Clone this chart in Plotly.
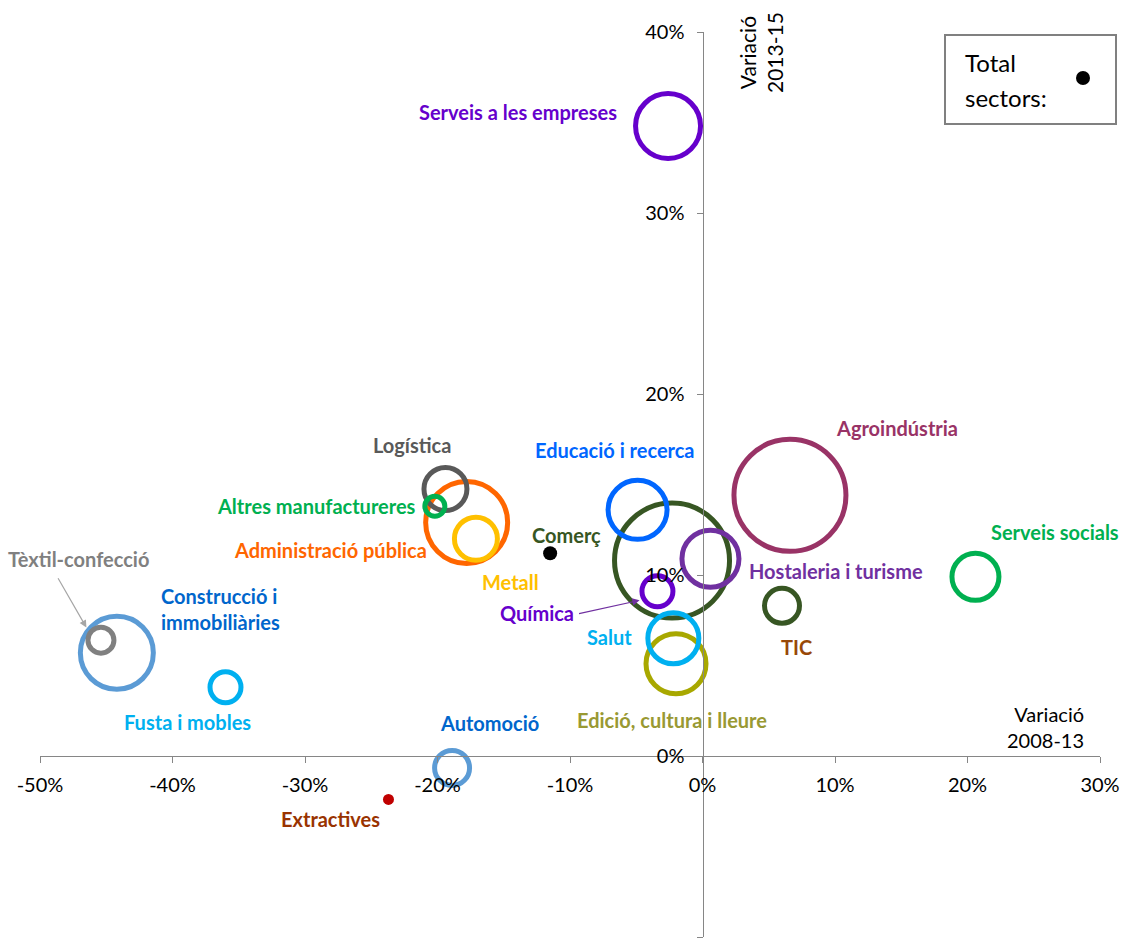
import plotly.graph_objects as go

# ---------------- data ----------------
sectors = ["Serveis a les empreses", "Logística", "Altres manufactureres",
           "Administració pública", "Metall", "Comerç", "Educació i recerca",
           "Agroindústria", "Hostaleria i turisme", "Serveis socials", "TIC",
           "Química", "Salut", "Edició, cultura i lleure",
           "Construcció i immobiliàries", "Tèxtil-confecció", "Fusta i mobles",
           "Automoció"]
var_2008_13 = [-2.6, -19.4, -20.2, -17.8, -17.1, -2.3, -4.9, 6.6, 0.6, 20.6,
               6.0, -3.4, -2.2, -2.0, -44.2, -45.4, -36.0, -18.9]
var_2013_15 = [34.8, 14.75, 13.8, 12.9, 12.0, 10.8, 13.6, 14.4, 10.9, 9.9,
               8.3, 9.1, 6.5, 5.1, 5.7, 6.4, 3.8, -0.66]
pes = [105.6, 46.2, 10.0, 168.1, 46.2, 330.6, 87.0, 313.6, 81.2, 55.2,
       30.6, 24.0, 65.0, 90.0, 133.2, 16.9, 24.0, 30.6]

extractives_name = "Extractives"
extractives_x = [-23.7]
extractives_y = [-2.4]

total_name = "Total sectors"
total_x = [-11.5]
total_y = [11.2]

x_ticks = [-50, -40, -30, -20, -10, 0, 10, 20, 30]
y_ticks = [-10, 0, 10, 20, 30, 40]

# ---------------- style ----------------
ring_colors = {
    "Serveis a les empreses": "#6600CC", "Logística": "#595959",
    "Altres manufactureres": "#00B050", "Administració pública": "#FF6600",
    "Metall": "#FFC000", "Comerç": "#375623", "Educació i recerca": "#0066FF",
    "Agroindústria": "#993366", "Hostaleria i turisme": "#7030A0",
    "Serveis socials": "#00B050", "TIC": "#375623", "Química": "#6600CC",
    "Salut": "#00B0F0", "Edició, cultura i lleure": "#A8A800",
    "Construcció i immobiliàries": "#5B9BD5", "Tèxtil-confecció": "#808080",
    "Fusta i mobles": "#00B0F0", "Automoció": "#5B9BD5",
}
label_style = {
    # name: (text, x, y, color)
    "Serveis a les empreses": ("Serveis a les empreses", -13.9, 35.6, "#6600CC"),
    "Logística": ("Logística", -21.9, 17.2, "#595959"),
    "Altres manufactureres": ("Altres manufactureres", -29.1, 13.8, "#00B050"),
    "Administració pública": ("Administració pública", -28.1, 11.4, "#FF6600"),
    "Metall": ("Metall", -14.5, 9.6, "#FFC000"),
    "Comerç": ("Comerç", -10.3, 12.2, "#375623"),
    "Educació i recerca": ("Educació i recerca", -6.6, 16.9, "#0066FF"),
    "Agroindústria": ("Agroindústria", 14.7, 18.1, "#993366"),
    "Hostaleria i turisme": ("Hostaleria i turisme", 10.1, 10.2, "#7030A0"),
    "Serveis socials": ("Serveis socials", 26.6, 12.4, "#00B050"),
    "TIC": ("TIC", 7.1, 6.0, "#984807"),
    "Química": ("Química", -12.5, 7.9, "#6600CC"),
    "Salut": ("Salut", -7.0, 6.6, "#00B0F0"),
    "Edició, cultura i lleure": ("Edició, cultura i lleure", -2.3, 2.0, "#999933"),
    "Construcció i immobiliàries": ("Construcció i<br>immobiliàries", -36.4, 8.1, "#0066CC"),
    "Tèxtil-confecció": ("Tèxtil-confecció", -47.1, 10.9, "#808080"),
    "Fusta i mobles": ("Fusta i mobles", -38.9, 1.9, "#00B0F0"),
    "Automoció": ("Automoció", -16.1, 1.8, "#0066CC"),
}
extractives_label = ("Extractives", -28.1, -3.5, "#993300")
arrows = [  # (head x, head y, tail x, tail y, color)
    (-4.75, 8.6, -9.43, 7.85, "#7030A0"),
    (-46.5, 7.1, -48.7, 9.9, "#A6A6A6"),
]

FONT = "Lato"
AXIS_COLOR = "#868686"
LABEL_SIZE = 20

# draw larger bubbles first
order = sorted(range(len(sectors)), key=lambda i: -pes[i])

fig = go.Figure()
fig.add_trace(go.Scatter(
    x=[var_2008_13[i] for i in order],
    y=[var_2013_15[i] for i in order],
    mode="markers",
    text=[sectors[i] for i in order],
    marker=dict(
        size=[pes[i] for i in order],
        sizemode="area",
        sizeref=0.05,
        opacity=1,
        color="rgba(0,0,0,0)",
        line=dict(color=[ring_colors[sectors[i]] for i in order], width=5),
    ),
    showlegend=False,
    hoverinfo="text",
))
fig.add_trace(go.Scatter(
    x=extractives_x, y=extractives_y, mode="markers", name=extractives_name,
    marker=dict(size=11, color="#C00000", line=dict(width=0)),
    showlegend=False,
))
fig.add_trace(go.Scatter(
    x=total_x, y=total_y, mode="markers", name=total_name,
    marker=dict(size=14, color="#000000", line=dict(width=0)),
    showlegend=False,
))

annotations = []
for name in sectors:
    t, lx, ly, c = label_style[name]
    annotations.append(dict(x=lx, y=ly, xref="x", yref="y", text="<b>%s</b>" % t,
                            showarrow=False, font=dict(family=FONT, size=LABEL_SIZE, color=c),
                            align="left"))
t, lx, ly, c = extractives_label
annotations.append(dict(x=lx, y=ly, xref="x", yref="y", text="<b>%s</b>" % t,
                        showarrow=False, font=dict(family=FONT, size=LABEL_SIZE, color=c)))
for hx, hy, tx, ty, c in arrows:
    annotations.append(dict(x=hx, y=hy, ax=tx, ay=ty, xref="x", yref="y",
                            axref="x", ayref="y", text="", showarrow=True,
                            arrowhead=2, arrowsize=1.2, arrowwidth=1.2, arrowcolor=c))

# axis titles
annotations.append(dict(x=(761 - 40) / 1060, y=(937 - 53) / 905, xref="paper", yref="paper",
                        xanchor="center", yanchor="middle",
                        text="Variació<br>2013-15", textangle=-90, showarrow=False,
                        font=dict(family=FONT, size=21, color="#000000")))
annotations.append(dict(x=(1086 - 40) / 1060, y=(937 - 727) / 905, xref="paper", yref="paper",
                        xanchor="right", yanchor="middle", align="right",
                        text="Variació<br>2008-13", showarrow=False,
                        font=dict(family=FONT, size=20, color="#000000")))
# legend box text
annotations.append(dict(x=(963 - 40) / 1060, y=(937 - 62) / 905, xref="paper", yref="paper",
                        xanchor="left", yanchor="middle", text="Total", showarrow=False,
                        font=dict(family=FONT, size=24, color="#000000")))
annotations.append(dict(x=(963 - 40) / 1060, y=(937 - 97) / 905, xref="paper", yref="paper",
                        xanchor="left", yanchor="middle", text="sectors:", showarrow=False,
                        font=dict(family=FONT, size=24, color="#000000")))

shapes = [
    dict(type="rect", xref="paper", yref="paper",
         x0=(945 - 40) / 1060, x1=(1116 - 40) / 1060,
         y0=(937 - 124) / 905, y1=(937 - 35) / 905,
         line=dict(color="#808080", width=2), fillcolor="rgba(0,0,0,0)"),
    dict(type="circle", xref="paper", yref="paper",
         xsizemode="pixel", ysizemode="pixel",
         xanchor=(1083 - 40) / 1060, yanchor=(937 - 78) / 905,
         x0=-7, x1=7, y0=-7, y1=7,
         fillcolor="#000000", line=dict(width=0)),
]

fig.update_layout(
    width=1129, height=944,
    margin=dict(l=40, r=29, t=32, b=7),
    paper_bgcolor="white", plot_bgcolor="white",
    annotations=annotations, shapes=shapes,
    font=dict(family=FONT, size=20, color="#000000"),
    xaxis=dict(range=[-50, 30], tickvals=x_ticks, ticktext=["%d%%" % v for v in x_ticks],
               showgrid=False, zeroline=False, showline=True, linecolor=AXIS_COLOR,
               linewidth=1, ticks="outside", ticklen=6, tickcolor=AXIS_COLOR,
               anchor="free", position=10 / 50, automargin=False,
               ticklabelstandoff=5,
               tickfont=dict(family=FONT, size=20, color="#000000")),
    yaxis=dict(range=[-10, 40], tickvals=y_ticks, ticktext=["%d%%" % v for v in y_ticks],
               showgrid=False, zeroline=False, showline=True, linecolor=AXIS_COLOR,
               linewidth=1, ticks="outside", ticklen=6, tickcolor=AXIS_COLOR,
               anchor="free", position=50 / 80, automargin=False,
               ticklabelstandoff=8,
               tickfont=dict(family=FONT, size=20, color="#000000")),
)

fig.write_html("out.html", config={"displayModeBar": False},
               post_script="document.body.style.margin='0';document.body.style.overflow='hidden';")
